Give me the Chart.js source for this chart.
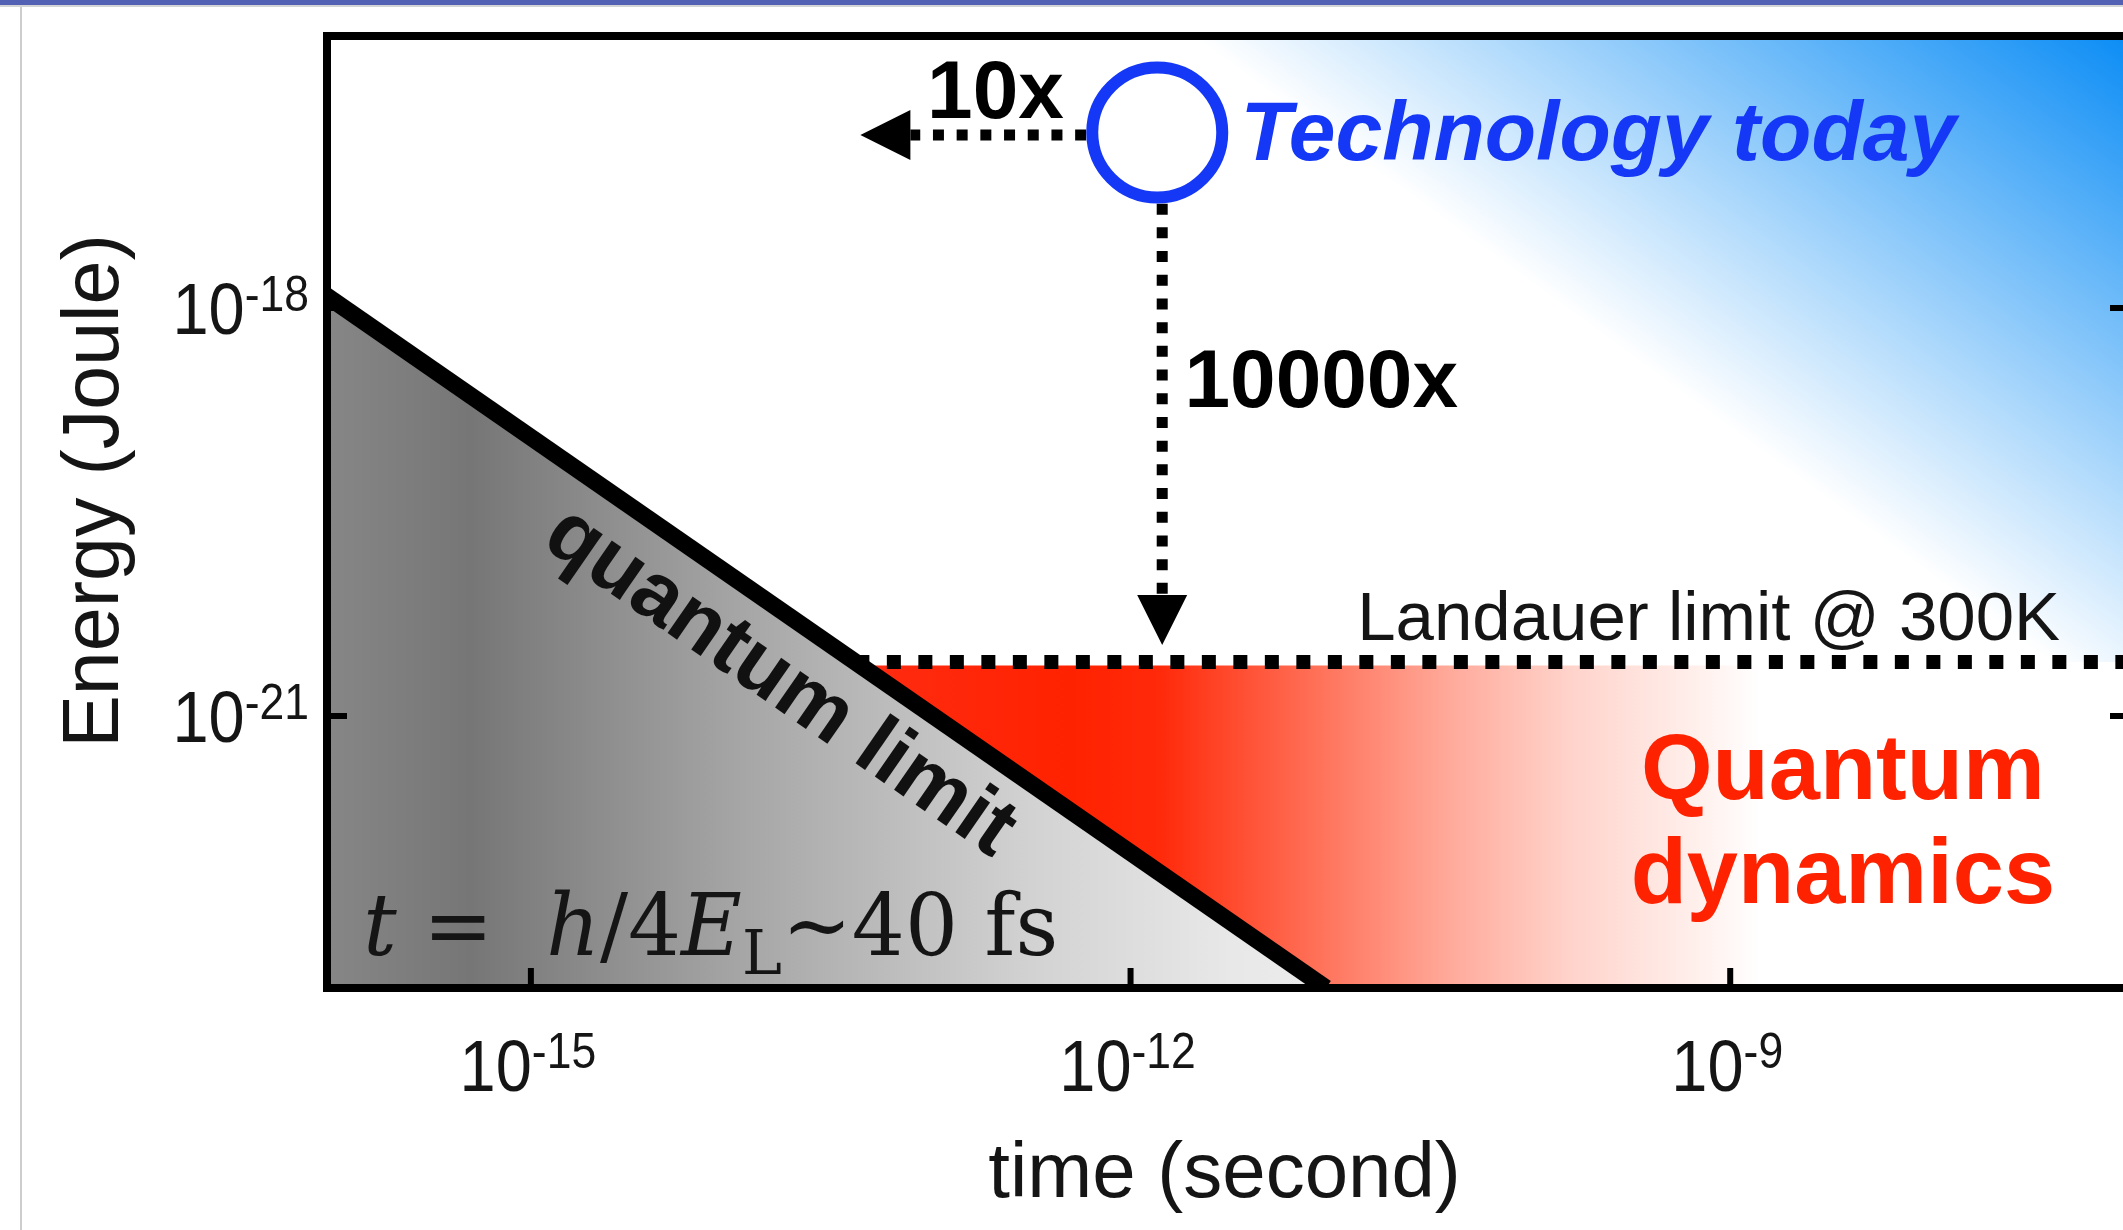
<!DOCTYPE html>
<html>
<head>
<meta charset="utf-8">
<title>Quantum limit vs Landauer limit</title>
<script src="https://cdn.jsdelivr.net/npm/chart.js@4.4.1/dist/chart.umd.min.js"></script>
<style>
  html, body { margin: 0; padding: 0; background: #fff; overflow: hidden; }
  #wrap   { position: absolute; left: 0; top: 0; width: 2140px; height: 1230px; }
  #topbar { position: absolute; left: 0; top: 0; width: 2123px; height: 5px; background: #5361b4; border-bottom: 2px solid #d4d4d4; }
  #edge   { position: absolute; left: 20px; top: 7px; width: 2px; height: 1223px; background: #cdcdcd; }
</style>
</head>
<body>
<div id="wrap"><canvas id="c"></canvas></div>
<div id="topbar"></div>
<div id="edge"></div>
<script>
// ── Axis ranges & ticks ───────────────────────────────────
const T_MIN = 9.55e-17, T_MAX = 1e-7;   // time (second)
const E_MIN = 1e-23,    E_MAX = 1e-16;  // energy (Joule)

const xTicks   = [1e-15, 1e-12, 1e-9];
const xTickExp = ['-15', '-12', '-9'];
const yTicks   = [1e-21, 1e-18];
const yTickExp = ['-21', '-18'];

// ── Series ────────────────────────────────────────────────
// quantum limit t = h/4E
const quantumT = [9e-17, 9.5e-12];
const quantumE = [1.3e-18, 1e-23];

// Landauer limit @ 300K (dotted)
const landauerT = [4.2e-14, 1e-7];
const landauerE = [2.5e-21, 2.5e-21];

// quantum dynamics band (red), top edge sits under the dots
const dynamicsT = [4.2e-14, 1e-7];
const dynamicsE = [2.35e-21, 2.35e-21];

// technology today
const techT = [1.36e-12];
const techE = [1.95e-17];

// 10x arrow (time) and 10000x arrow (energy)
const arrowTimeT   = [1.36e-12, 4.45e-14];
const arrowTimeE   = [1.87e-17, 1.87e-17];
const arrowEnergyT = [1.44e-12, 1.44e-12];
const arrowEnergyE = [1.95e-17, 3.33e-21];

const BLUE = '#1438f5', RED = '#ff2200', INK = '#151515';
const SANS = '"Liberation Sans", Arial, sans-serif';
const SERIF = '"DejaVu Serif", serif';
const HEAD_LEN = 50, HEAD_W = 50;

const pts = (xs, ys) => xs.map((v, i) => ({ x: v, y: ys[i] }));

// horizontal gradient with stops given in data-x
function hGradient(chart, stops) {
  const { ctx, chartArea, scales } = chart;
  if (!chartArea) return 'transparent';
  const x0 = scales.x.getPixelForValue(stops[0][0]);
  const x1 = scales.x.getPixelForValue(stops[stops.length - 1][0]);
  const g = ctx.createLinearGradient(x0, 0, x1, 0);
  stops.forEach(([v, c]) => g.addColorStop((scales.x.getPixelForValue(v) - x0) / (x1 - x0), c));
  return g;
}

const GREY_STOPS = [[1e-16, '#868686'], [10 ** -15.3, '#767676'], [1e-14, '#a4a4a4'],
                    [10 ** -12.5, '#d2d2d2'], [10 ** -11.5, '#e8e8e8'], [1e-11, '#ececec']];
const RED_STOPS  = [[4.2e-14, '#ff2c12'], [10 ** -12.3, '#ff2200'], [10 ** -11.85, '#ff2a0a'],
                    [10 ** -11.1, '#ff6e55'], [10 ** -10.4, '#ffaa9b'], [10 ** -9.8, '#ffd3cb'],
                    [10 ** -9.2, '#ffeeea'], [10 ** -8.85, '#ffffff']];

// diagonal white -> blue wash towards the top-right corner
function blueGradient(chart) {
  const { ctx, chartArea, scales: { x, y } } = chart;
  if (!chartArea) return 'transparent';
  const ax = x.getPixelForValue(2e-12), ay = y.getPixelForValue(E_MAX);
  const bx = x.getPixelForValue(T_MAX), by = y.getPixelForValue(9.3e-22);
  const dx = bx - ax, dy = by - ay, len = Math.hypot(dx, dy);
  const nx = dy / len, ny = -dx / len;
  const dist = (x.getPixelForValue(T_MAX) - ax) * nx;
  const g = ctx.createLinearGradient(ax, ay, ax + nx * dist, ay + ny * dist);
  g.addColorStop(0, '#ffffff');
  g.addColorStop(1, '#0a8cf5');
  return g;
}

// ── Drawing helpers ───────────────────────────────────────
// "10" with a raised exponent, slightly condensed like the original
function pow10(ctx, exp, x, y, align) {
  const k = 0.89;
  ctx.font = `73px ${SANS}`; const w1 = ctx.measureText('10').width * k;
  ctx.font = `50px ${SANS}`; const w2 = ctx.measureText(exp).width * k;
  const x0 = align === 'right' ? x - w1 - w2 : x - (w1 + w2) / 2;
  ctx.save();
  ctx.translate(x0, y); ctx.scale(k, 1);
  ctx.textAlign = 'left';
  ctx.font = `73px ${SANS}`; ctx.fillText('10', 0, 0);
  ctx.font = `50px ${SANS}`; ctx.fillText(exp, w1 / k, -23);
  ctx.restore();
}

function label(ctx, str, p, font, color, align = 'left') {
  ctx.font = font; ctx.fillStyle = color; ctx.textAlign = align;
  ctx.fillText(str, p[0], p[1]);
}

function drawFormula(ctx, x0, y0, targetW) {
  const R = `86px ${SERIF}`, I = `italic 86px ${SERIF}`, S = `62px ${SERIF}`;
  const runs = [['t', I, 0], [' =  ', R, 0], ['h', I, 0], ['/4', R, 0], ['E', I, 0], ['L', S, 19], ['~40 fs', R, 0]];
  let w = 0;
  runs.forEach(([s, f]) => { ctx.font = f; w += ctx.measureText(s).width; });
  ctx.save();
  ctx.translate(x0, y0); ctx.scale(targetW / w, 1);
  ctx.fillStyle = INK; ctx.textAlign = 'left';
  let cx = 0;
  runs.forEach(([s, f, dy]) => { ctx.font = f; ctx.fillText(s, cx, dy); cx += ctx.measureText(s).width; });
  ctx.restore();
}

function headOf(meta) {
  const p = meta.data[meta.data.length - 1], q = meta.data[meta.data.length - 2];
  return [p, Math.atan2(p.y - q.y, p.x - q.x)];
}

// ── Plugin: arrow heads, frame, ticks, labels ─────────────
const overlay = {
  id: 'overlay',
  beforeDatasetDraw(chart, args) {
    if (!chart.data.datasets[args.index].arrowHead) return;
    const { ctx } = chart;
    const [tip, ang] = headOf(args.meta);
    const c = Math.cos(ang), s = Math.sin(ang);
    ctx.save();
    ctx.beginPath();
    ctx.rect(0, 0, chart.width, chart.height);
    [[-HEAD_LEN, -HEAD_W / 2], [4, -HEAD_W / 2], [4, HEAD_W / 2], [-HEAD_LEN, HEAD_W / 2]].forEach(([u, v], k) => {
      const px = tip.x + u * c - v * s, py = tip.y + u * s + v * c;
      k ? ctx.lineTo(px, py) : ctx.moveTo(px, py);
    });
    ctx.closePath();
    ctx.clip('evenodd');
  },
  afterDatasetDraw(chart, args) {
    if (!chart.data.datasets[args.index].arrowHead) return;
    const { ctx } = chart;
    ctx.restore();
    const [tip, ang] = headOf(args.meta);
    ctx.save();
    ctx.translate(tip.x, tip.y); ctx.rotate(ang);
    ctx.fillStyle = '#000';
    ctx.beginPath();
    ctx.moveTo(0, 0); ctx.lineTo(-HEAD_LEN, -HEAD_W / 2); ctx.lineTo(-HEAD_LEN, HEAD_W / 2);
    ctx.closePath(); ctx.fill();
    ctx.restore();
  },
  afterDraw(chart) {
    const { ctx, chartArea: ca, scales: { x, y } } = chart;
    const at = (t, e) => [x.getPixelForValue(t), y.getPixelForValue(e)];
    ctx.save();
    ctx.textBaseline = 'alphabetic';

    // frame + inward ticks
    ctx.strokeStyle = '#000'; ctx.lineWidth = 8;
    ctx.strokeRect(ca.left, ca.top, ca.right - ca.left, ca.bottom - ca.top);
    ctx.lineWidth = 6;
    ctx.beginPath();
    xTicks.forEach(v => { const px = x.getPixelForValue(v); ctx.moveTo(px, ca.bottom); ctx.lineTo(px, ca.bottom - 20); });
    yTicks.forEach(v => {
      const py = y.getPixelForValue(v);
      ctx.moveTo(ca.left, py); ctx.lineTo(ca.left + 20, py);
      ctx.moveTo(ca.right, py); ctx.lineTo(ca.right - 20, py);
    });
    ctx.stroke();

    // tick labels
    ctx.fillStyle = INK;
    xTicks.forEach((v, i) => pow10(ctx, xTickExp[i], x.getPixelForValue(v) - 3, ca.bottom + 103, 'center'));
    yTicks.forEach((v, i) => pow10(ctx, yTickExp[i], ca.left - 18, y.getPixelForValue(v) + 26, 'right'));

    // axis titles
    label(ctx, 'time (second)', [(ca.left + ca.right) / 2 - 4, ca.bottom + 209], `78px ${SANS}`, INK, 'center');
    ctx.save();
    ctx.translate(ca.left - 209, ca.top + 455); ctx.rotate(-Math.PI / 2);
    label(ctx, 'Energy (Joule)', [0, 0], `79px ${SANS}`, INK, 'center');
    ctx.restore();

    // annotations
    label(ctx, '10x', at(9.6e-14, 2.5e-17), `bold 82px ${SANS}`, '#000');
    label(ctx, '10000x', at(1.86e-12, 1.87e-19), `bold 82px ${SANS}`, '#000');
    label(ctx, 'Technology today', at(3.55e-12, 1.22e-17), `italic bold 84px ${SANS}`, BLUE);
    label(ctx, 'Landauer limit @ 300K', at(1.36e-11, 3.62e-21), `69px ${SANS}`, INK);
    label(ctx, 'Quantum', at(3.66e-9, 2.45e-22), `bold 92px ${SANS}`, RED, 'center');
    label(ctx, 'dynamics', at(3.66e-9, 4.2e-23), `bold 92px ${SANS}`, RED, 'center');

    // "quantum limit" running along the line, just underneath it
    const qm = chart.getDatasetMeta(3).data;
    const ang = Math.atan2(qm[1].y - qm[0].y, qm[1].x - qm[0].x);
    const ax = x.getPixelForValue(2.6e-14);
    const ay = qm[0].y + (ax - qm[0].x) * Math.tan(ang);
    ctx.save();
    ctx.translate(ax - Math.sin(ang) * 60, ay + Math.cos(ang) * 60);
    ctx.rotate(ang);
    ctx.textBaseline = 'middle';
    label(ctx, 'quantum limit', [0, 0], `bold 84px ${SANS}`, '#111', 'center');
    ctx.restore();

    const f = at(1.5e-16, 1.75e-23);
    drawFormula(ctx, f[0] - 3, f[1], 695);
    ctx.restore();
  }
};

// ── Chart ─────────────────────────────────────────────────
new Chart(document.getElementById('c'), {
  type: 'line',
  data: {
    datasets: [
      { label: 'Technology today', data: pts(techT, techE), order: 0, showLine: false,
        pointRadius: 65, pointBorderWidth: 12, pointBorderColor: BLUE, pointBackgroundColor: '#fff', clip: false },
      { label: '10x', data: pts(arrowTimeT, arrowTimeE), order: 1, arrowHead: true,
        pointRadius: 0, borderColor: '#000', borderWidth: 11, borderDash: [11, 12.7], fill: false },
      { label: '10000x', data: pts(arrowEnergyT, arrowEnergyE), order: 1, arrowHead: true,
        pointRadius: 0, borderColor: '#000', borderWidth: 11, borderDash: [11, 12.7], fill: false },
      { label: 'quantum limit', data: pts(quantumT, quantumE), order: 2, clip: 0,
        pointRadius: 0, borderColor: '#000', borderWidth: 17, fill: 'start',
        backgroundColor: c => hGradient(c.chart, GREY_STOPS) },
      { label: 'Landauer limit @ 300K', data: pts(landauerT, landauerE), order: 3, clip: 0,
        pointRadius: 0, borderColor: '#000', borderWidth: 14, borderDash: [14, 17.5], fill: 'end',
        backgroundColor: c => blueGradient(c.chart) },
      { label: 'Quantum dynamics', data: pts(dynamicsT, dynamicsE), order: 4, clip: 0,
        pointRadius: 0, borderWidth: 0, borderColor: 'transparent', fill: 'start',
        backgroundColor: c => hGradient(c.chart, RED_STOPS) }
    ]
  },
  options: {
    responsive: true, maintainAspectRatio: false, devicePixelRatio: 1,
    animation: false, events: [],
    layout: { autoPadding: false, padding: { left: 327, right: 10, top: 36, bottom: 242 } },
    plugins: { legend: { display: false }, tooltip: { enabled: false } },
    scales: {
      x: { type: 'logarithmic', min: T_MIN, max: T_MAX, display: false },
      y: { type: 'logarithmic', min: E_MIN, max: E_MAX, display: false }
    }
  },
  plugins: [overlay]
});
</script>
</body>
</html>
